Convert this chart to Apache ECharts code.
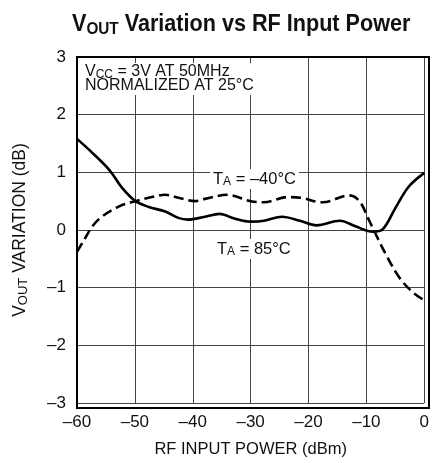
<!DOCTYPE html>
<html><head><meta charset="utf-8">
<script src="https://cdn.jsdelivr.net/npm/echarts@6/dist/echarts.min.js"></script>
<style>html,body{margin:0;padding:0;background:#fff}#c{width:432px;height:463px}</style>
</head><body><div id="c"></div>
<script>
const xTicks = [-60, -50, -40, -30, -20, -10, 0];
const yTicks = [-3, -2, -1, 0, 1, 2, 3];
const tempHotX = [-60, -57.8, -54.4, -52.2, -49.9, -47.6, -44.75, -42.5, -40.8, -37.9, -35.4, -32.8, -30, -27.7, -24.6, -21.5, -18.6, -14.6, -11.8, -8.9, -7.2, -5.0, -2.7, 0];
const tempHotY = [1.58, 1.38, 1.04, 0.73, 0.50, 0.40, 0.32, 0.21, 0.18, 0.23, 0.28, 0.20, 0.145, 0.16, 0.23, 0.16, 0.08, 0.16, 0.06, -0.03, 0.01, 0.38, 0.75, 0.99];
const tempColdX = [-60, -58.7, -57.3, -55.6, -52.7, -49.9, -47.6, -44.75, -42.5, -39.6, -37.9, -34, -30, -27.7, -23.7, -21.4, -18.6, -17.5, -13, -11.2, -9.5, -8.4, -6.7, -4.4, -2.1, 0];
const tempColdY = [-0.38, -0.16, 0.07, 0.24, 0.41, 0.50, 0.56, 0.61, 0.56, 0.50, 0.54, 0.61, 0.50, 0.48, 0.57, 0.56, 0.49, 0.48, 0.60, 0.50, 0.16, -0.07, -0.41, -0.81, -1.07, -1.22];

const FONT = '"Liberation Sans", Arial, sans-serif';
const zip = (xs, ys) => xs.map((x, i) => [x, ys[i]]);
const chart = echarts.init(document.getElementById('c'));
chart.setOption({
  animation: false,
  grid: { left: 77, right: 3, top: 57, bottom: 55, containLabel: false },
  xAxis: {
    type: 'value', min: xTicks[0], max: xTicks[xTicks.length - 1], interval: 10,
    name: 'RF INPUT POWER (dBm)', nameLocation: 'middle', nameGap: 38,
    nameTextStyle: { fontFamily: FONT, fontSize: 16.5, color: '#111' },
    axisLine: { show: false },
    axisTick: { show: false },
    axisLabel: { fontFamily: FONT, fontSize: 17, color: '#111', margin: 11,
      formatter: v => (v < 0 ? '\u2013' + Math.abs(v) : String(v)) },
    splitLine: { show: true, lineStyle: { color: '#444', width: 1 } }
  },
  yAxis: {
    type: 'value', min: yTicks[0], max: yTicks[yTicks.length - 1], interval: 1,
    name: 'V{sub|OUT} VARIATION (dB)', nameLocation: 'middle', nameGap: 48,
    nameTextStyle: { fontFamily: FONT, fontSize: 17.5, color: '#111',
      rich: { sub: { fontFamily: FONT, fontSize: 13, color: '#111', padding: [0, 0, -6, 0] } } },
    axisLine: { show: false },
    axisTick: { show: false },
    axisLabel: { fontFamily: FONT, fontSize: 17, color: '#111', margin: 11,
      formatter: v => (v < 0 ? '\u2013' + Math.abs(v) : String(v)) },
    splitLine: { show: true, lineStyle: { color: '#444', width: 1 } }
  },
  series: [
    { type: 'line', name: 'TA = 85°C', data: zip(tempHotX, tempHotY), smooth: 0.35, showSymbol: false,
      lineStyle: { color: '#000', width: 2.6 }, z: 5 },
    { type: 'line', name: 'TA = -40°C', data: zip(tempColdX, tempColdY), smooth: 0.35, showSymbol: false,
      lineStyle: { color: '#000', width: 2.6, type: [10, 5] }, z: 5 }
  ],
  graphic: [
    { type: 'text', x: 72, y: 11, scaleX: 0.9, z: 30,
      style: { text: 'V{sub|OUT} Variation vs RF Input Power', fontFamily: FONT, fontWeight: 'bold', fontSize: 24, fill: '#111',
        rich: { sub: { fontFamily: FONT, fontWeight: 'bold', fontSize: 17, fill: '#111', padding: [10, 0, 0, 0] } } } },
    { type: 'rect', shape: { x: 77, y: 57, width: 352, height: 351 }, style: { fill: 'none', stroke: '#000', lineWidth: 2 }, z: 10 },
    { type: 'text', x: 82, y: 63, z: 20,
      style: { text: 'V{sub|CC} = 3V AT 50MHz\nNORMALIZED AT 25°C', fontFamily: FONT, fontSize: 16, fill: '#111', lineHeight: 14,
        backgroundColor: '#fff', padding: [2, 3, 2, 3],
        rich: { sub: { fontFamily: FONT, fontSize: 12, fill: '#111', padding: [6, 0, 0, 0] } } } },
    { type: 'text', x: 210, y: 169, z: 20,
      style: { text: 'T{sub|A} = \u201340°C', fontFamily: FONT, fontSize: 16.5, fill: '#111',
        backgroundColor: '#fff', padding: [1, 3, 1, 3],
        rich: { sub: { fontFamily: FONT, fontSize: 12, fill: '#111', padding: [6, 0, 0, 0] } } } },
    { type: 'text', x: 214, y: 239, z: 20,
      style: { text: 'T{sub|A} = 85°C', fontFamily: FONT, fontSize: 16.5, fill: '#111',
        backgroundColor: '#fff', padding: [1, 3, 1, 3],
        rich: { sub: { fontFamily: FONT, fontSize: 12, fill: '#111', padding: [6, 0, 0, 0] } } } }
  ]
});
</script></body></html>
